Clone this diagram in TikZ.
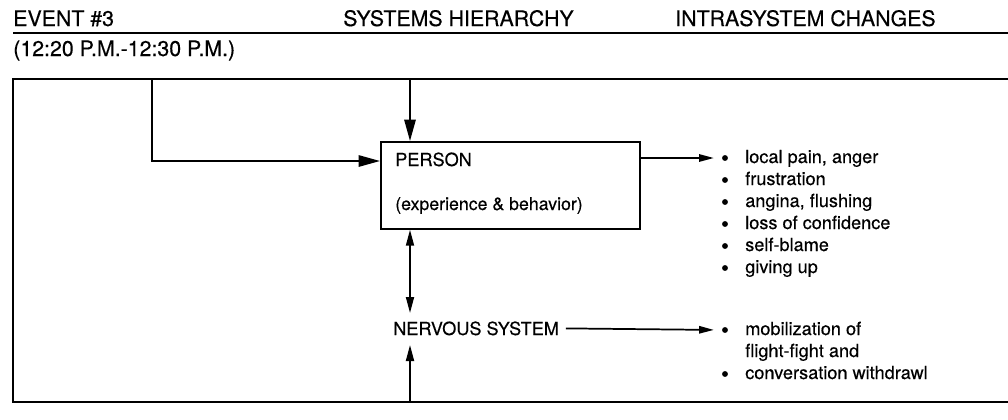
\documentclass[tikz,border=0pt]{standalone}
\usepackage{fontspec}
\setmainfont{TeX Gyre Heros}[FakeBold=0.35]
\usetikzlibrary{arrows.meta,calc}
\begin{document}
\begin{tikzpicture}[x=0.75pt,y=-0.75pt,
  hdr/.style={anchor=base west,inner sep=0pt,font=\fontsize{16}{19}\selectfont},
  txt/.style={anchor=base west,inner sep=0pt,font=\fontsize{13.6}{16}\selectfont},
  headrule/.style={line width=1.3pt},
  frame/.style={line width=1pt},
  conn/.style={line width=1.3pt},
  bigtip/.style={-{Triangle[length=16pt,width=8.5pt]}},
  smalltip/.style={-{Triangle[length=11pt,width=5.5pt]}},
  dbltip/.style={{Triangle[length=12pt,width=6pt]}-{Triangle[length=12pt,width=6pt]}},
  uptip/.style={-{Triangle[length=12pt,width=6pt]}},
  bul/.style={circle,fill=black,inner sep=0pt,minimum size=4.4pt},
  boxstyle/.style={draw,line width=1.3pt,inner sep=0pt,minimum width=194.25pt,minimum height=65.25pt,anchor=north west}
]
\useasboundingbox (0,0) rectangle (1008,419);
% header
\node[hdr] (ev) at (13,26) {EVENT \#3};
\node[hdr] (sh) at (343,26) {SYSTEMS HIERARCHY};
\node[hdr] (ic) at (675,26) {INTRASYSTEM CHANGES};
\coordinate (r1a) at (13,33);
\coordinate (r1b) at (1008,33);
\draw[headrule] (r1a) -- (r1b);
\node[hdr] (tm) at (13,56) {(12:20 P.M.-12:30 P.M.)};
% frame
\coordinate (ftr) at (1008,79);
\coordinate (ftl) at (13,79);
\coordinate (fbl) at (13,402);
\coordinate (fbr) at (1008,402);
\draw[frame] (ftr) -- (ftl) -- (fbl) -- (fbr);
% person box
\node[boxstyle] (person) at (380,141) {};
\node[txt] (pt) at (395,166) {PERSON};
\node[txt,font=\fontsize{13.3}{16}\selectfont] (pe) at (395,210) {(experience \& behavior)};
% nervous system
\node[txt] (nerv) at (393,335) {NERVOUS SYSTEM};
% connectors
\coordinate (tl) at (152,79);
\draw[conn,bigtip] (tl) |- ($(person.north west)+(0,20)$);
\coordinate (tt) at (410,79);
\draw[conn,bigtip] (tt) -- (tt |- person.north);
\coordinate (n1) at (410,313);
\draw[conn,dbltip] (tt |- person.south) -- (n1);
\coordinate (n2) at (410,345);
\coordinate (bt) at (410,402);
\draw[conn,uptip] (bt) -- (n2);
% list 1
\foreach \i/\t in {0/{local pain, anger},1/frustration,2/{angina, flushing},3/{loss of confidence},4/self-blame,5/{giving up}}{
  \node[bul] (b\i) at (725,158+22*\i) {};
  \node[txt] (l\i) at (745,163+22*\i) {\t};
}
\draw[conn,smalltip,shorten >=6pt] ($(person.north east)+(0,17)$) -- (b0.west);
% list 2
\node[bul] (c0) at (725,330) {};
\node[txt] (m0) at (745,335) {mobilization of};
\node[txt] (m1) at (745,357) {flight-fight and};
\node[bul] (c2) at (725,374) {};
\node[txt] (m2) at (745,379) {conversation withdrawl};
\draw[conn,smalltip,shorten >=6pt] ([xshift=5pt]nerv.east) -- (c0.west);
\end{tikzpicture}
\end{document}
